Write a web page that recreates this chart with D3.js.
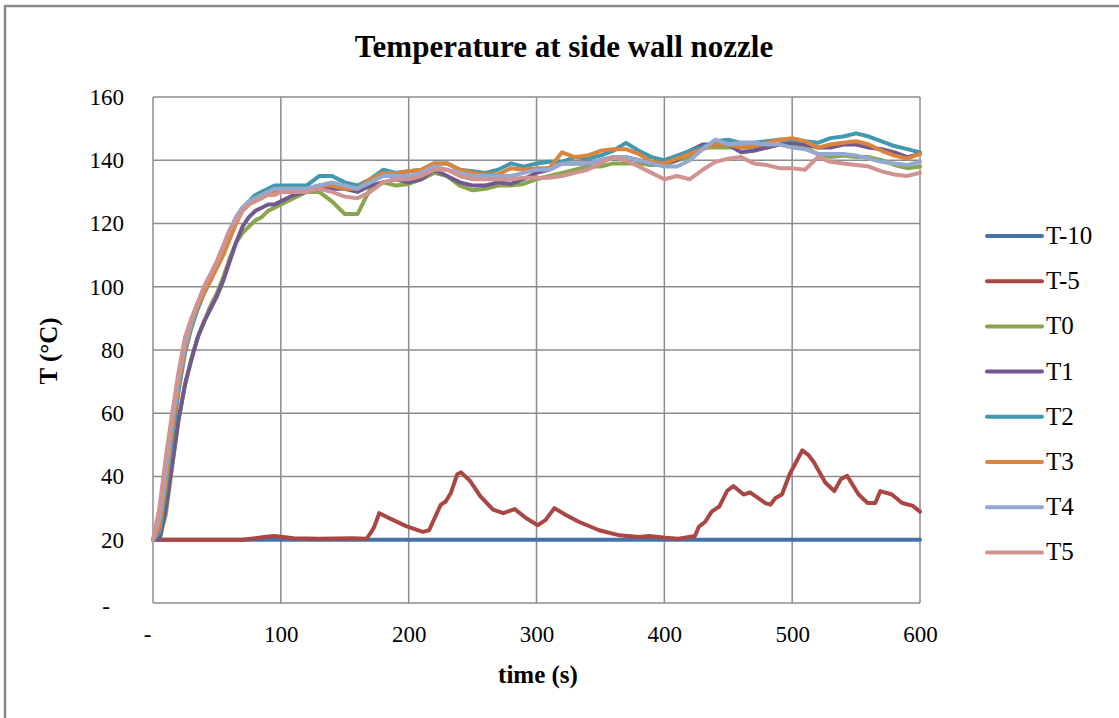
<!DOCTYPE html>
<html>
<head>
<meta charset="utf-8">
<script src="https://cdn.jsdelivr.net/npm/d3@7"></script>
<style>
  body { margin: 0; background: #fff; }
  svg { display: block; font-family: "Liberation Serif", "Times New Roman", serif; }
</style>
</head>
<body>
<svg id="chart" width="1119" height="718"></svg>
<script>
// series names + colours (excel 2007 palette)
const seriesNames = ["T-10", "T-5", "T0", "T1", "T2", "T3", "T4", "T5"];
const seriesColors = ["#4572A7", "#AA4643", "#89A54E", "#71588F", "#4198AF", "#DB843D", "#93A9CF", "#D19392"];

const xTicks = [0, 100, 200, 300, 400, 500, 600];
const yTicks = [0, 20, 40, 60, 80, 100, 120, 140, 160];

// time stamps shared by T-10 and T0..T5
const times = [0, 5, 10, 15, 20, 25, 30, 35, 40, 45, 50, 55, 60, 65, 70, 75, 80, 85, 90, 95, 100,
  110, 120, 130, 140, 150, 160, 170, 180, 190, 200, 210, 220, 230, 240, 250, 260, 270, 280, 290, 300,
  310, 320, 330, 340, 350, 360, 370, 380, 390, 400, 410, 420, 430, 440, 450, 460, 470, 480, 490, 500,
  510, 520, 530, 540, 550, 560, 570, 580, 590, 600];

const tM10 = [20, 20, 20, 20, 20, 20, 20, 20, 20, 20, 20, 20, 20, 20, 20, 20, 20, 20, 20, 20, 20,
  20, 20, 20, 20, 20, 20, 20, 20, 20, 20, 20, 20, 20, 20, 20, 20, 20, 20, 20, 20,
  20, 20, 20, 20, 20, 20, 20, 20, 20, 20, 20, 20, 20, 20, 20, 20, 20, 20, 20, 20,
  20, 20, 20, 20, 20, 20, 20, 20, 20, 20];

const t0 = [20, 20, 28, 43, 58, 69, 77, 84, 89, 94, 98, 103, 109, 114, 117, 119, 121, 122, 124, 125, 126,
  128, 130, 130, 127, 123, 123, 131, 133, 132, 132.5, 134, 136, 135, 132, 130.5, 131, 132, 132, 132.5, 134,
  135, 136, 137, 138, 138, 139, 139, 139, 138.5, 138.5, 140, 141, 144, 144, 144, 144, 144, 144, 145, 145,
  144, 142, 141, 141.5, 141, 141, 140, 138.5, 137.5, 138];

const t1 = [20, 20, 30, 44, 58, 69, 77, 84, 89, 93, 97, 102, 108, 114, 119, 122, 124, 125, 126, 126, 127,
  129, 130, 131, 131, 131, 130, 132, 133, 134, 133, 134, 137, 135, 133, 132, 132, 133, 132.5, 134, 136,
  137, 139, 139, 139, 140, 141, 141, 140, 139, 139, 140, 143, 145, 145, 145, 142.5, 143, 144, 145, 145.5,
  145, 144, 144, 145, 145, 144, 143.5, 142.5, 141, 142];

const t2 = [20, 22, 36, 52, 67, 79, 87, 93, 98, 102, 107, 112, 117, 122, 125, 127, 129, 130, 131, 132, 132,
  132, 132, 135, 135, 133, 132, 134, 137, 136, 136.5, 137, 139, 139, 137, 136.5, 136, 137, 139, 138, 139,
  139.5, 139.5, 141, 140.5, 141.5, 143, 145.5, 143, 141, 140, 141.5, 143, 144, 146, 146.5, 145.5, 145.5, 146, 146.5, 146.5,
  146, 145.5, 147, 147.5, 148.5, 147.5, 146, 144.5, 143.5, 142.5];

const t3 = [20, 24, 38, 55, 69, 80, 88, 94, 98, 102, 106, 110, 115, 120, 124, 126, 128, 129, 130, 130, 131,
  131, 131, 132, 132, 131, 131, 134, 136, 136, 136.5, 137, 139, 139, 137, 136, 135.5, 135.5, 137.5, 137, 137.5,
  137.5, 142.5, 141, 141.5, 143, 143.5, 143.5, 142, 139.5, 139, 140.5, 142, 143.5, 145, 145, 144, 144.5, 145.5, 146.5, 147,
  146, 144, 145, 145.5, 146, 145, 143, 141.5, 140.5, 142];

const t4 = [20, 27, 42, 58, 71, 82, 89, 95, 100, 104, 108, 113, 118, 122, 125, 127, 128, 129, 130, 131, 131,
  131, 131, 132, 133, 132, 131, 133, 135, 135, 135, 136, 138, 137, 136, 135, 135, 135, 135, 136, 137,
  137, 139, 139, 139, 140, 141, 141, 140, 139, 138, 138, 140, 143.5, 146.5, 145, 145.5, 145.5, 145, 145, 144,
  143.5, 142, 142, 142, 141.5, 140.5, 139.5, 139, 138.5, 139.5];

const t5 = [20, 30, 46, 60, 73, 84, 90, 95, 100, 104, 108, 113, 118, 121, 124, 126, 127, 128, 129, 129, 130,
  130, 130, 131, 130, 128.5, 128, 130, 133, 134, 134, 135, 137, 137, 135, 134, 134, 134, 134, 134.5, 134.5,
  134.5, 135, 136, 137, 139, 141, 140, 138, 136, 134, 135, 134, 137, 139.5, 140.5, 141, 139, 138.5, 137.5, 137.5,
  137, 141, 139.5, 139, 138.5, 138, 136.5, 135.5, 135, 136];

// T-5 has its own time stamps (more detail in the peaks)
const timesM5 = [0, 70, 80, 90, 95, 110, 130, 156, 167, 170, 173, 177, 188, 198, 211, 216, 219, 225, 229, 233,
  238, 241, 248, 256, 266, 274, 283, 292, 301, 307, 314, 323, 333, 349, 365, 380, 388, 401, 411, 424,
  427, 432, 437, 443, 449, 454, 462, 467, 479, 483, 487, 492, 498, 503, 508, 513, 517, 526, 533, 538,
  543, 552, 559, 565, 569, 578, 586, 594, 600];
const tM5 = [20, 20, 20.5, 21, 21.2, 20.5, 20.3, 20.5, 20.3, 22, 24, 28.4, 26.2, 24.3, 22.5, 23, 25.7, 31, 32.1, 34.8,
  40.7, 41.3, 38.6, 33.8, 29.5, 28.4, 29.7, 26.8, 24.6, 26.2, 30, 27.8, 25.7, 23, 21.4, 20.9, 21.2, 20.6, 20.3, 21.2,
  24.1, 25.7, 28.9, 30.5, 35.4, 37, 34.3, 35, 31.6, 31.1, 33.2, 34.3, 40.7, 44.5, 48.3, 46.7, 44.5, 38, 35.4, 39.1,
  40.2, 34.3, 31.6, 31.6, 35.4, 34.3, 31.6, 30.8, 28.9];

const seriesX = [times, timesM5, times, times, times, times, times, times];
const seriesY = [tM10, tM5, t0, t1, t2, t3, t4, t5];

const svg = d3.select("#chart");
const W = 1119, H = 718;
const plot = { left: 153, top: 97, right: 920, bottom: 603 };

const x = d3.scaleLinear().domain([0, 600]).range([plot.left, plot.right]);
const y = d3.scaleLinear().domain([0, 160]).range([plot.bottom, plot.top]);

svg.append("rect").attr("width", W).attr("height", H).attr("fill", "#fff");

// outer chart border (right/bottom edges off screen)
svg.append("rect")
  .attr("x", 5).attr("y", 6)
  .attr("width", W + 20).attr("height", H + 20)
  .attr("fill", "none").attr("stroke", "#8a8a8a").attr("stroke-width", 2.5);

// gridlines
const grid = svg.append("g").attr("stroke", "#8c8c8c").attr("stroke-width", 1.5);
grid.selectAll(".gy").data(yTicks).join("line")
  .attr("x1", plot.left).attr("x2", plot.right)
  .attr("y1", d => y(d)).attr("y2", d => y(d));
grid.selectAll(".gx").data(xTicks).join("line")
  .attr("y1", plot.top).attr("y2", plot.bottom)
  .attr("x1", d => x(d)).attr("x2", d => x(d));

// axes (just labels, excel style)
const fmt = d => d === 0 ? "-" : d;
const yAxis = svg.append("g")
  .attr("transform", `translate(${plot.left},0)`)
  .call(d3.axisLeft(y).tickValues(yTicks).tickFormat(fmt).tickSize(0).tickPadding(29));
const xAxis = svg.append("g")
  .attr("transform", `translate(0,${plot.bottom})`)
  .call(d3.axisBottom(x).tickValues(xTicks).tickFormat(fmt).tickSize(0).tickPadding(23));
[yAxis, xAxis].forEach(a => {
  a.select(".domain").remove();
  a.selectAll("text").attr("font-family", "Liberation Serif, serif").attr("font-size", 23).attr("fill", "#000");
});
yAxis.selectAll("text").filter(d => d === 0).attr("dx", -14).attr("dy", "0.45em");
xAxis.selectAll("text").filter(d => d === 0).attr("dx", -6);

// lines
const line = d3.line().x(d => x(d[0])).y(d => y(d[1]));
seriesNames.forEach((name, i) => {
  const pts = seriesX[i].map((t, j) => [t, seriesY[i][j]]);
  svg.append("path")
    .datum(pts)
    .attr("d", line)
    .attr("fill", "none")
    .attr("stroke", seriesColors[i])
    .attr("stroke-width", 4)
    .attr("stroke-linejoin", "round")
    .attr("stroke-linecap", "round");
});

// title + axis titles
svg.append("text")
  .attr("x", 564).attr("y", 57)
  .attr("text-anchor", "middle")
  .attr("font-size", 31).attr("font-weight", "bold")
  .text("Temperature at side wall nozzle");

svg.append("text")
  .attr("transform", "translate(57,351) rotate(-90)")
  .attr("text-anchor", "middle")
  .attr("font-size", 25).attr("font-weight", "bold")
  .text("T (°C)");

svg.append("text")
  .attr("x", 538).attr("y", 683)
  .attr("text-anchor", "middle")
  .attr("font-size", 25).attr("font-weight", "bold")
  .text("time (s)");

// legend
const legend = svg.append("g").attr("transform", "translate(987,236)");
const items = legend.selectAll("g").data(seriesNames).join("g")
  .attr("transform", (d, i) => `translate(0,${i * 45.2})`);
items.append("line")
  .attr("x1", 0).attr("x2", 55)
  .attr("stroke", (d, i) => seriesColors[i])
  .attr("stroke-width", 4).attr("stroke-linecap", "round");
items.append("text")
  .attr("x", 59).attr("y", 8)
  .attr("font-size", 25)
  .text(d => d);
</script>
</body>
</html>
